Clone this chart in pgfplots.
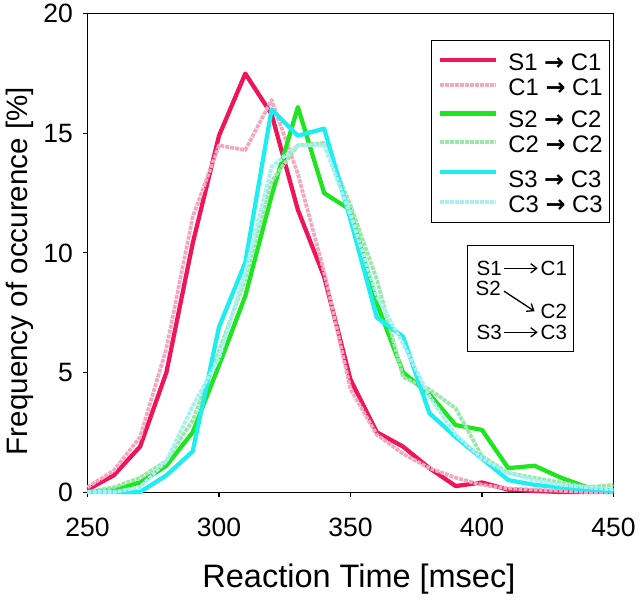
\documentclass[border=0pt]{standalone}
\usepackage{fontspec}
\setmainfont{Liberation Sans}
\newfontfamily\dv{DejaVu Sans}
\usepackage{pgfplots}
\pgfplotsset{compat=1.18}
\usetikzlibrary{arrows.meta}
\definecolor{sone}{HTML}{F0145A}
\definecolor{cone}{HTML}{F2A8C0}
\definecolor{stwo}{HTML}{1EE61E}
\definecolor{ctwo}{HTML}{98E8AA}
\definecolor{sthree}{HTML}{1EEEF0}
\definecolor{cthree}{HTML}{A8F0F2}

\newcommand{\ar}{{\dv\bfseries →}}
\newcommand{\rs}{\rule[-3.5pt]{0pt}{21pt}}

\begin{document}
\begin{tikzpicture}
\begin{axis}[
  width=396.75pt, height=360.75pt, scale only axis,
  xmin=250, xmax=450, ymin=0, ymax=20,
  xtick={250,300,350,400,450}, ytick={0,5,10,15,20},
  tick align=outside, tick pos=left, major tick length=3.5pt,
  axis line style={line width=0.8pt},
  tick style={line width=0.8pt, black},
  /pgf/number format/assume math mode=true,
  ticklabel style={font=\fontsize{20}{20}\selectfont},
  xticklabel style={yshift=-12.5pt},
  yticklabel style={xshift=-4pt},
  xlabel={Reaction Time [msec]},
  ylabel={Frequency of occurence [\%]},
  xlabel style={font=\fontsize{24.5}{24.5}\selectfont,
    at={([yshift=-66pt]rel axis cs:0.516,0)}, anchor=center},
  ylabel style={font=\fontsize{22.3}{22.3}\selectfont,
    at={([xshift=-51pt]rel axis cs:0,0.462)}, anchor=center},
  clip=false,
  legend style={at={(rel axis cs:0.993,0.946)}, anchor=north east,
    draw=black, line width=0.8pt, inner xsep=5pt, inner ysep=5.5pt,
    font=\fontsize{18}{18}\selectfont, row sep=0pt,
    nodes={inner sep=0pt},
    /tikz/every odd column/.append style={column sep=8pt}},
  legend cell align=left,
  legend image code/.code={\draw[#1] (0pt,0pt) -- (42pt,0pt);},
  solid/.style={line width=3.2pt, line join=round},
  pale/.style={line width=2.8pt, line join=round, dash pattern=on 3pt off 0.8pt},
]
\coordinate (o) at (rel axis cs:0,0);

\addplot[solid, sone] coordinates {
(250,0.1) (260,0.7) (270,1.9) (280,5.0) (290,10.4) (300,14.9) (310,17.5)
(320,15.8) (330,11.8) (340,9.0) (350,4.7) (360,2.5) (370,1.9) (380,1.0)
(390,0.25) (400,0.4) (410,0.1) (420,0.05) (430,0) (440,0) (450,0)};
\addlegendentry{\rs S1 \ar{} C1}

\addplot[pale, cone] coordinates {
(250,0.2) (260,0.9) (270,2.3) (280,6.0) (290,11.5) (300,14.5) (310,14.3)
(320,16.4) (330,13.3) (340,9.2) (350,4.3) (360,2.4) (370,1.6) (380,1.0)
(390,0.6) (400,0.3) (410,0.15) (420,0.1) (430,0.05) (440,0) (450,0)};
\addlegendentry{\rs C1 \ar{} C1}

\addplot[solid, stwo] coordinates {
(250,0) (260,0.1) (270,0.4) (280,1.1) (290,2.5) (300,5.3) (310,8.2)
(320,12.4) (330,16.1) (340,12.5) (350,11.8) (360,7.9) (370,5.0) (380,4.1)
(390,2.8) (400,2.6) (410,1.0) (420,1.1) (430,0.6) (440,0.2) (450,0.05)};
\addlegendentry{\rule[-3.5pt]{0pt}{25.75pt}S2 \ar{} C2}

\addplot[pale, ctwo] coordinates {
(250,0) (260,0.2) (270,0.6) (280,1.3) (290,3.0) (300,5.9) (310,8.9)
(320,13.0) (330,14.5) (340,14.6) (350,12.0) (360,8.9) (370,4.8) (380,4.3)
(390,3.5) (400,1.5) (410,0.8) (420,0.6) (430,0.4) (440,0.2) (450,0.3)};
\addlegendentry{\rs C2 \ar{} C2}

\addplot[solid, sthree] coordinates {
(250,0) (260,0) (270,0) (280,0.7) (290,1.7) (300,6.9) (310,9.6)
(320,16.0) (330,14.9) (340,15.2) (350,11.4) (360,7.3) (370,6.5) (380,3.3)
(390,2.3) (400,1.4) (410,0.5) (420,0.3) (430,0.2) (440,0.1) (450,0.05)};
\addlegendentry{\rule[-3.5pt]{0pt}{28.5pt}S3 \ar{} C3}

\addplot[pale, cthree] coordinates {
(250,0) (260,0) (270,0.2) (280,1.3) (290,3.6) (300,5.6) (310,9.2)
(320,13.6) (330,14.5) (340,14.5) (350,11.6) (360,8.2) (370,6.2) (380,4.0)
(390,2.4) (400,1.4) (410,0.8) (420,0.5) (430,0.3) (440,0.2) (450,0.1)};
\addlegendentry{\rs C3 \ar{} C3}

% mapping diagram
\draw[line width=0.8pt] (rel axis cs:0.722,0.5156) rectangle (rel axis cs:0.9244,0.2931);
\begin{scope}[every node/.style={font=\fontsize{15.5}{15.5}\selectfont, inner sep=0pt},
  arr/.style={-{Straight Barb[length=4.5pt,width=7pt]}, line width=1pt}]
\node at (rel axis cs:0.7637,0.4678) {S1};
\node at (rel axis cs:0.8866,0.4678) {C1};
\node at (rel axis cs:0.7618,0.4262) {S2};
\node at (rel axis cs:0.8866,0.3770) {C2};
\node at (rel axis cs:0.7637,0.3340) {S3};
\node at (rel axis cs:0.8866,0.3340) {C3};
\draw[arr] (rel axis cs:0.7920,0.4678) -- (rel axis cs:0.8560,0.4678);
\draw[arr] (rel axis cs:0.7920,0.4200) -- (rel axis cs:0.8500,0.3780);
\draw[arr] (rel axis cs:0.7920,0.3340) -- (rel axis cs:0.8560,0.3340);
\end{scope}
\end{axis}
\path ([shift={(-66pt,-79.5pt)}]o) rectangle ([shift={(414pt,369.75pt)}]o);
\end{tikzpicture}
\end{document}
